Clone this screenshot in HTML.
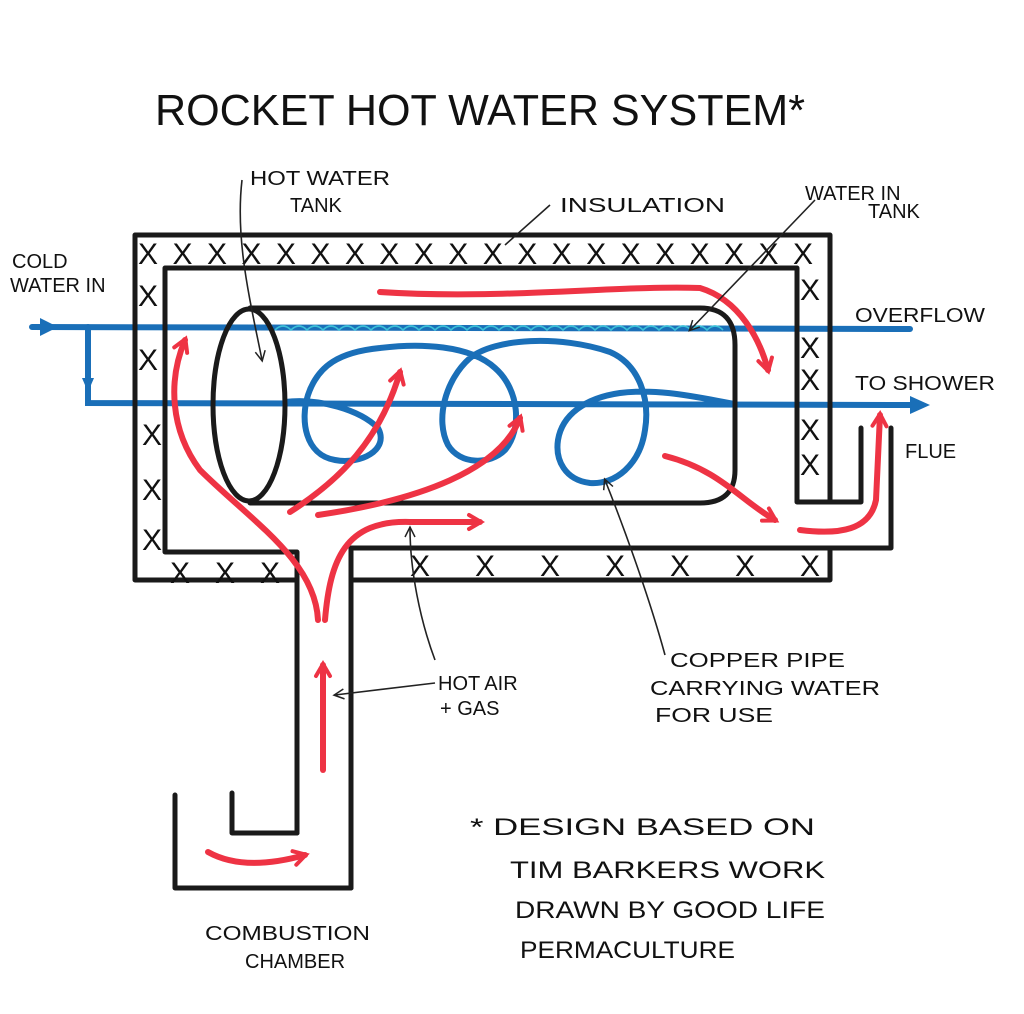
<!DOCTYPE html>
<html><head><meta charset="utf-8"><style>
html,body{margin:0;padding:0;background:#fff;}
svg{display:block}
text{font-family:"Liberation Sans",sans-serif;fill:#111;}
</style></head><body>
<svg width="1024" height="1014" viewBox="0 0 1024 1014" xmlns="http://www.w3.org/2000/svg">
<defs>
<marker id="ar" markerWidth="20" markerHeight="20" refX="14" refY="10" orient="auto" markerUnits="userSpaceOnUse"><path d="M3,3 L15,10 L3,17" fill="none" stroke="#ee3344" stroke-width="4" stroke-linecap="round"/></marker>
<marker id="ak" markerWidth="14" markerHeight="14" refX="11" refY="7" orient="auto" markerUnits="userSpaceOnUse"><path d="M2,2 L12,7 L2,12" fill="none" stroke="#222" stroke-width="1.5"/></marker>
</defs>
<text x="155" y="125" font-size="44" textLength="650" lengthAdjust="spacingAndGlyphs">ROCKET HOT WATER SYSTEM*</text>

<!-- blue pipes -->
<g stroke="#1a6fb8" stroke-width="6" fill="none" stroke-linecap="round">
<line x1="32" y1="327" x2="910" y2="329"/>
<path d="M88,327 L88,403 L912,405"/>
<path d="M285,402 C320,398 360,410 378,428 C390,450 360,465 335,460 C305,455 300,420 308,395 C318,365 340,352 380,348 C420,343 470,345 495,368 C520,390 522,430 505,450 C490,465 460,465 448,445 C435,420 445,380 470,358 C495,338 560,335 610,352 C640,365 650,400 645,430 C640,465 615,485 590,483 C565,480 555,460 558,440 C562,415 585,398 620,393 C660,388 700,398 735,404"/>
</g>
<g fill="#1a6fb8">
<polygon points="40,318 58,327 40,336"/>
<polygon points="82,378 94,378 88,392"/>
<polygon points="910,396 930,405 910,414"/>
</g>
<path d="M275,330 q8,-8 16,0 q8,-8 16,0 q8,-8 16,0 q8,-8 16,0 q8,-8 16,0 q8,-8 16,0 q8,-8 16,0 q8,-8 16,0 q8,-8 16,0 q8,-8 16,0 q8,-8 16,0 q8,-8 16,0 q8,-8 16,0 q8,-8 16,0 q8,-8 16,0 q8,-8 16,0 q8,-8 16,0 q8,-8 16,0 q8,-8 16,0 q8,-8 16,0 q8,-8 16,0 q8,-8 16,0 q8,-8 16,0 q8,-8 16,0 q8,-8 16,0 q8,-8 16,0 q8,-8 16,0 q8,-8 16,0" fill="none" stroke="#3cc0d8" stroke-width="1.6"/>

<!-- black structure -->
<g stroke="#1a1a1a" stroke-width="5" fill="none" stroke-linejoin="round" stroke-linecap="round">
<path d="M297,580 L135,580 L135,235 L830,235 L830,500"/>
<path d="M351,580 L830,580 L830,548"/>
<path d="M297,833 L297,552 L165,552 L165,268 L797,268 L797,502 L861,502 L861,428"/>
<path d="M351,888 L351,548 L891,548 L891,428"/>
<path d="M175,795 L175,888 L351,888"/>
<path d="M232,793 L232,833 L297,833"/>
<path d="M250,308 L700,308 Q735,308 735,345 L735,470 Q735,503 700,503 L250,503"/>
<ellipse cx="249" cy="405" rx="36" ry="96"/>
</g>
<!-- insulation X -->
<g font-size="30" fill="#1a1a1a">
<text x="138" y="264" textLength="675" lengthAdjust="spacing">XXXXXXXXXXXXXXXXXXXX</text>
<text x="138" y="306">X</text><text x="138" y="370">X</text><text x="142" y="445">X</text><text x="142" y="500">X</text><text x="142" y="550">X</text>
<text x="800" y="300">X</text><text x="800" y="358">X</text><text x="800" y="390">X</text><text x="800" y="440">X</text><text x="800" y="475">X</text>
<text x="170" y="583" textLength="110" lengthAdjust="spacing">XXX</text>
<text x="410" y="576" textLength="410" lengthAdjust="spacing">XXXXXXX</text>
</g>

<!-- red arrows -->
<g stroke="#ee3344" stroke-width="6" fill="none" stroke-linecap="round" marker-end="url(#ar)">
<path d="M318,620 C315,560 250,520 200,470 C170,430 168,380 185,340"/>
<path d="M290,512 C340,480 380,440 400,372"/>
<path d="M318,515 C420,500 500,470 520,418"/>
<path d="M325,620 C330,560 345,520 410,522 L480,522"/>
<path d="M380,292 C500,300 620,285 700,288 C740,300 760,340 768,370"/>
<path d="M665,456 C720,470 740,500 775,520"/>
<path d="M800,530 C840,535 870,530 876,500 L880,415"/>
<path d="M323,770 L323,665"/>
<path d="M208,852 C240,870 280,862 305,855"/>
</g>

<!-- leader lines -->
<g stroke="#222" stroke-width="1.6" fill="none">
<path d="M242,180 C235,240 250,300 262,360" marker-end="url(#ak)"/>
<path d="M550,205 L505,245"/>
<path d="M815,200 L690,330" marker-end="url(#ak)"/>
<path d="M435,660 C420,620 410,570 410,528" marker-end="url(#ak)"/>
<path d="M435,683 L335,695" marker-end="url(#ak)"/>
<path d="M665,655 C650,600 625,530 605,480" marker-end="url(#ak)"/>
</g>

<!-- labels -->
<g font-size="20">
<text x="250" y="185" textLength="140" lengthAdjust="spacingAndGlyphs">HOT WATER</text>
<text x="290" y="212">TANK</text>
<text x="560" y="212" textLength="165" lengthAdjust="spacingAndGlyphs">INSULATION</text>
<text x="805" y="200">WATER IN</text>
<text x="868" y="218">TANK</text>
<text x="12" y="268">COLD</text>
<text x="10" y="292">WATER IN</text>
<text x="855" y="322" textLength="130" lengthAdjust="spacingAndGlyphs">OVERFLOW</text>
<text x="855" y="390" textLength="140" lengthAdjust="spacingAndGlyphs">TO SHOWER</text>
<text x="905" y="458">FLUE</text>
<text x="438" y="690">HOT AIR</text>
<text x="440" y="715">+ GAS</text>
<text x="670" y="667" textLength="175" lengthAdjust="spacingAndGlyphs">COPPER PIPE</text>
<text x="650" y="695" textLength="230" lengthAdjust="spacingAndGlyphs">CARRYING WATER</text>
<text x="655" y="722" textLength="118" lengthAdjust="spacingAndGlyphs">FOR USE</text>
<text x="205" y="940" textLength="165" lengthAdjust="spacingAndGlyphs">COMBUSTION</text>
<text x="245" y="968">CHAMBER</text>
</g>
<g font-size="24">
<text x="470" y="835" textLength="345" lengthAdjust="spacingAndGlyphs">*  DESIGN  BASED  ON</text>
<text x="510" y="878" textLength="315" lengthAdjust="spacingAndGlyphs">TIM BARKERS WORK</text>
<text x="515" y="918" textLength="310" lengthAdjust="spacingAndGlyphs">DRAWN BY GOOD LIFE</text>
<text x="520" y="958" textLength="215" lengthAdjust="spacingAndGlyphs">PERMACULTURE</text>
</g>
</svg>
</body></html>
